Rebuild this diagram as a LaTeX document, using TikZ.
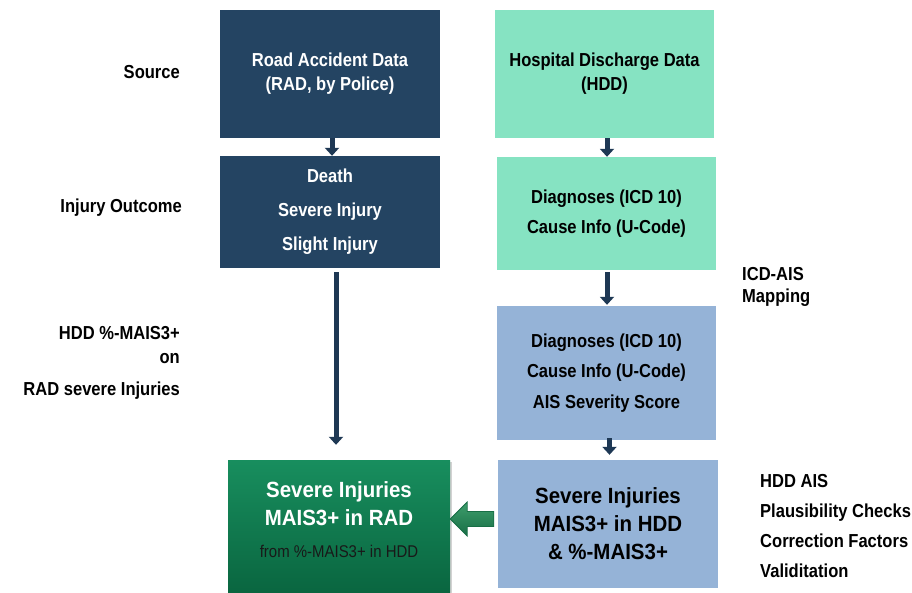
\documentclass[tikz,border=0pt]{standalone}
\usepackage{fontspec}
\setmainfont[FakeStretch=0.88]{Liberation Sans}
\newfontfamily\bigfont[FakeStretch=0.93]{Liberation Sans}
\usetikzlibrary{arrows.meta,calc,shadows}
\definecolor{navy}{RGB}{36,68,98}
\definecolor{arrownavy}{RGB}{30,56,84}
\definecolor{mint}{RGB}{134,227,194}
\definecolor{lblue}{RGB}{149,179,215}
\definecolor{gtop}{RGB}{24,142,94}
\definecolor{gbot}{RGB}{10,102,64}
\definecolor{garrowlight}{RGB}{62,158,108}
\definecolor{garrowdark}{RGB}{24,110,70}
\begin{document}
\begin{tikzpicture}[x=1pt,y=-1pt,
  box/.style={rectangle, inner sep=0pt, align=center, font=\bfseries\fontsize{18.8}{24}\selectfont},
  sidelabel/.style={inner sep=0pt, font=\bfseries\fontsize{18.8}{24}\selectfont},
  downarrow/.style={draw=arrownavy, line width=5pt, -{Triangle[length=8pt,width=14pt]}},
  greenarrow/.style={draw=garrowdark, line width=0.8pt, top color=garrowlight, bottom color=garrowdark, line join=miter}
]
\fill[white] (0,0) rectangle (912,592);
\useasboundingbox (0,0) rectangle (912,592);

% boxes
\node[box, fill=navy, text=white, minimum width=220pt, minimum height=128pt] (rad) at (330,74) {Road Accident Data\\(RAD, by Police)};
\node[box, fill=mint, minimum width=219pt, minimum height=128pt] (hdd) at (604.5,74) {Hospital Discharge Data\\(HDD)};
\node[box, fill=navy, text=white, minimum width=220pt, minimum height=112pt, font=\bfseries\fontsize{18.8}{34}\selectfont] (outcome) at (330,212) {Death\\Severe Injury\\Slight Injury};
\node[box, fill=mint, minimum width=219pt, minimum height=113pt, font=\bfseries\fontsize{18.8}{30}\selectfont] (diag) at (606.5,213.5) {Diagnoses (ICD 10)\\Cause Info (U-Code)};
\node[box, fill=lblue, minimum width=219pt, minimum height=134pt, font=\bfseries\fontsize{18.8}{30.5}\selectfont] (ais) at (606.5,373) {Diagnoses (ICD 10)\\Cause Info (U-Code)\\AIS Severity Score};
\node[box, fill=lblue, minimum width=220pt, minimum height=128pt, font=\bigfont\bfseries\fontsize{22}{28}\selectfont] (hddsev) at (608,524) {Severe Injuries\\MAIS3+ in HDD\\\&~\%-MAIS3+};
\node[box, top color=gtop, bottom color=gbot, minimum width=222pt, minimum height=132pt,
  drop shadow={shadow xshift=2pt, shadow yshift=-2pt, opacity=0.35}] (radsev) at (339,526) {};
\node[box, text=white, font=\bigfont\bfseries\fontsize{22}{28}\selectfont] (radsevtext) at ($(radsev.center)+(0,-6)$)
  {Severe Injuries\\MAIS3+ in RAD\\[4pt]{\normalfont\mdseries\fontsize{17}{18}\selectfont\color{black!90} from \%-MAIS3+ in HDD}};

% side labels
\node[sidelabel, anchor=east] (lsrc) at (180,72) {Source};
\node[sidelabel, anchor=east] (lout) at (182,208) {Injury Outcome};
\node[sidelabel, anchor=east, align=right] (lhdd) at (180,363) {HDD \%-MAIS3+\\on\\[8pt]RAD severe Injuries};
\node[sidelabel, anchor=west, align=left, font=\bfseries\fontsize{18.8}{22}\selectfont] (lmap) at (742,287) {ICD-AIS\\Mapping};
\node[sidelabel, anchor=west, align=left, font=\bfseries\fontsize{18.8}{30}\selectfont] (lchk) at (760,526) {HDD AIS\\Plausibility Checks\\Correction Factors\\Validitation};

% connectors
\coordinate (a1) at ($(rad.south)+(2,0)$);
\draw[downarrow] (a1) -- (a1 |- outcome.north);
\coordinate (a2) at ($(hdd.south)+(2.5,0)$);
\draw[downarrow] (a2) -- (a2 |- diag.north);
\coordinate (a3) at ($(outcome.south)+(6,0)$);
\draw[downarrow, shorten <=4pt, shorten >=15pt] (a3) -- (a3 |- radsev.north);
\coordinate (a4) at ($(diag.south)+(0.5,0)$);
\draw[downarrow, shorten <=2pt, shorten >=1pt] (a4) -- (a4 |- ais.north);
\coordinate (a5) at ($(ais.south)+(3,0)$);
\draw[downarrow, shorten <=-2pt, shorten >=5pt] (a5) -- (a5 |- hddsev.north);
% block arrow from HDD result to RAD result
\coordinate (tip) at ($(radsev.east)+(0,-7)$);
\coordinate (tail) at ($(hddsev.west |- tip)+(-4,0)$);
\draw[greenarrow] (tip) -- ++(17,-17) -- ++(0,9.5) -- (tail |- 0,511.5) -- (tail |- 0,526.5) -- ($(tip)+(17,7.5)$) -- ++(0,9.5) -- cycle;
\end{tikzpicture}
\end{document}
